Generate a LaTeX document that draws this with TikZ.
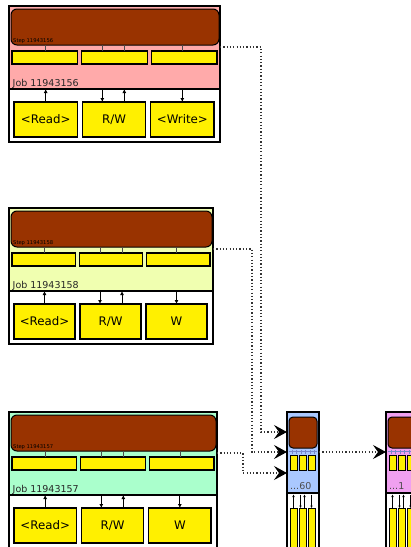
\documentclass[tikz,border=0pt]{standalone}
\usepackage{fontspec}
\setmainfont{DejaVu Sans}
\usetikzlibrary{arrows.meta}
\definecolor{brn}{HTML}{993300}
\definecolor{ylw}{HTML}{FFF000}
\definecolor{pnk}{HTML}{FFAAAA}
\definecolor{lyl}{HTML}{F0FFB0}
\definecolor{mnt}{HTML}{AAFFCC}
\definecolor{lbl}{HTML}{AAC8FF}
\definecolor{vio}{HTML}{F0A0F0}
\definecolor{mk}{HTML}{7788CC}
\tikzset{
  outerbox/.style={draw, line width=1.4pt, anchor=north west, inner sep=0pt, outer sep=0pt},
  stepbox/.style={draw, fill=brn, rounded corners=6pt, line width=1pt, anchor=north west, inner sep=0pt, outer sep=0pt},
  barbox/.style={draw, fill=ylw, line width=1.2pt, minimum height=13pt, anchor=north west, inner sep=0pt, outer sep=0pt},
  taskbox/.style={draw, fill=ylw, line width=1.2pt, minimum height=35pt, anchor=north west, inner sep=0pt, outer sep=0pt, font=\fontsize{11.8}{12}\selectfont},
  colbar/.style={draw, fill=ylw, line width=1pt, anchor=north west, inner sep=0pt, outer sep=0pt, minimum width=7pt},
  steplbl/.style={anchor=base west, inner sep=0pt, font=\fontsize{5.2}{5}\selectfont, text=black},
  joblbl/.style={anchor=base west, inner sep=0pt, font=\fontsize{9.5}{9}\selectfont, text=black!85},
  collbl/.style={anchor=base west, inner sep=0pt, font=\fontsize{9.5}{9}\selectfont, text=black!70},
  sepline/.style={line width=1.2pt},
  mini/.style={line width=0.8pt, -{Latex[length=4pt,width=4pt]}},
  tick/.style={line width=0.5pt, black!70},
  cmini/.style={line width=0.5pt, -{Latex[length=2.5pt,width=2.5pt]}},
  flow/.style={line width=1.2pt, black!80, dash pattern=on 1.2pt off 2.1pt, -{Stealth[length=13pt,width=14pt,inset=5pt,black]}},
}
\newcommand\jobblk[6]{%
 \pgfmathsetmacro\jt{#2}%
 \pgfmathsetmacro\jr{#3}%
 \pgfmathsetmacro\ow{\jr-9}%
 \pgfmathsetmacro\sw{\jr-12}%
 \pgfmathsetmacro\bw{(\jr-23)/3}%
 \pgfmathsetmacro\kw{(\jr-30)/3}%
 \pgfmathsetmacro\ys{\jt+3}%
 \pgfmathsetmacro\yb{\jt+45}%
 \pgfmathsetmacro\yl{\jt+80}%
 \pgfmathsetmacro\yline{\jt+83}%
 \pgfmathsetmacro\yk{\jt+96}%
 \pgfmathsetmacro\ylab{\jt+36}%
 \pgfmathsetmacro\yo{\jt+41}%
 \pgfmathsetmacro\bxb{12+\bw+4}%
 \pgfmathsetmacro\bxc{12+2*\bw+8}%
 \pgfmathsetmacro\kxb{14+\kw+5}%
 \pgfmathsetmacro\kxc{14+2*\kw+10}%
 \pgfmathsetmacro\xd{\kxb+20}%
 \pgfmathsetmacro\xu{\kxb+42}%
 \fill[#4] (9,\jt) rectangle (\jr,\yline);
 \node[outerbox, minimum width=\ow pt, minimum height=136pt] (#1) at (9,\jt) {};
 \node[stepbox, minimum width=\sw pt, minimum height=36pt] (#1s) at (11,\ys) {};
 \node[steplbl] (#1sl) at (13,\ylab) {Step #5};
 \node[barbox, minimum width=\bw pt] (#1b1) at (12,\yb) {};
 \node[barbox, minimum width=\bw pt] (#1b2) at (\bxb,\yb) {};
 \node[barbox, minimum width=\bw pt] (#1b3) at (\bxc,\yb) {};
 \node[joblbl] (#1l) at (12.5,\yl) {Job #5};
 \coordinate (#1L) at (9,\yline);
 \draw[sepline] (9,\yline) -- (\jr,\yline);
 \node[taskbox, minimum width=\kw pt] (#1k1) at (14,\yk) {<Read>};
 \node[taskbox, minimum width=\kw pt] (#1k2) at (\kxb,\yk) {R/W};
 \node[taskbox, minimum width=\kw pt] (#1k3) at (\kxc,\yk) {#6};
 \coordinate (#1d) at (\xd,\yline);
 \coordinate (#1u) at (\xu,\yline);
 \draw[mini] (#1k1.north) -- (#1k1.north |- #1L);
 \draw[mini] (#1d) -- (#1d |- #1k2.north);
 \draw[mini] (#1u |- #1k2.north) -- (#1u);
 \draw[mini] (#1k3.north |- #1L) -- (#1k3.north);
 \draw[tick] (#1k1.north |- #1s.south) -- (#1k1.north |- #1b1.north);
 \draw[tick] (#1d |- #1s.south) -- (#1d |- #1b2.north);
 \draw[tick] (#1u |- #1s.south) -- (#1u |- #1b2.north);
 \draw[tick] (#1k3.north |- #1s.south) -- (#1k3.north |- #1b3.north);
 \coordinate (#1o) at (\jr,\yo);
}
\newcommand\colblk[4]{%
 \pgfmathsetmacro\cl{#2}%
 \pgfmathsetmacro\cr{\cl+32}%
 \fill[#3] (\cl,412) rectangle (\cr,493);
 \node[outerbox, minimum width=32pt, minimum height=150pt] (#1) at (\cl,412) {};
 \node[stepbox, rounded corners=4pt, minimum width=28pt, minimum height=31pt] (#1s) at (\cl+2,417) {};
 \foreach \i in {5,9,14,18,23,27} {\draw[line width=0.5pt, mk] (\cl+\i,450) -- (\cl+\i,453.5);}
 \draw[line width=0.4pt, mk] (\cl+2,451.5) -- (\cl+30,451.5);
 \node[colbar, minimum height=15pt] (#1b1) at (\cl+3,455) {};
 \node[colbar, minimum height=15pt] (#1b2) at (\cl+12,455) {};
 \node[colbar, minimum height=15pt] (#1b3) at (\cl+21,455) {};
 \node[collbl] (#1l) at (\cl+3,489) {#4};
 \draw[sepline] (\cl,493) -- (\cr,493);
 \coordinate (#1L) at (\cl,493);
 \node[colbar, minimum height=60pt] (#1t1) at (\cl+3,508) {};
 \node[colbar, minimum height=60pt] (#1t2) at (\cl+12,508) {};
 \node[colbar, minimum height=60pt] (#1t3) at (\cl+21,508) {};
 \draw[cmini] (\cl+6.5,508) -- (\cl+6.5,494.5);
 \draw[cmini] (\cl+13.5,494.5) -- (\cl+13.5,508);
 \draw[cmini] (\cl+17.5,508) -- (\cl+17.5,494.5);
 \draw[cmini] (\cl+24.5,494.5) -- (\cl+24.5,508);
}
\begin{document}
\begin{tikzpicture}[x=1pt,y=-1pt]
\useasboundingbox (0,0) rectangle (411,547);
\clip (0,0) rectangle (411,547);
\fill[white] (0,0) rectangle (411,547);
\jobblk{ja}{6}{220}{pnk}{11943156}{<Write>}
\jobblk{jb}{208}{213}{lyl}{11943158}{W}
\jobblk{jc}{412}{217}{mnt}{11943157}{W}
\colblk{ca}{287}{lbl}{...60}
\colblk{cb}{386}{vio}{...1}
\coordinate (ta) at (287,432);
\coordinate (tb) at (287,452);
\coordinate (tc) at (287,473);
\coordinate (td) at (386,452);
\draw[flow] (jao) -- (261,46 |- jao) -- (261,432) -- (ta);
\draw[flow] (jbo) -- (252,250 |- jbo) -- (252,452) -- (tb);
\draw[flow] (jco) -- (243,452 |- jco) -- (243,473) -- (tc);
\draw[flow] (ca.east |- td) -- (td);
\end{tikzpicture}
\end{document}
